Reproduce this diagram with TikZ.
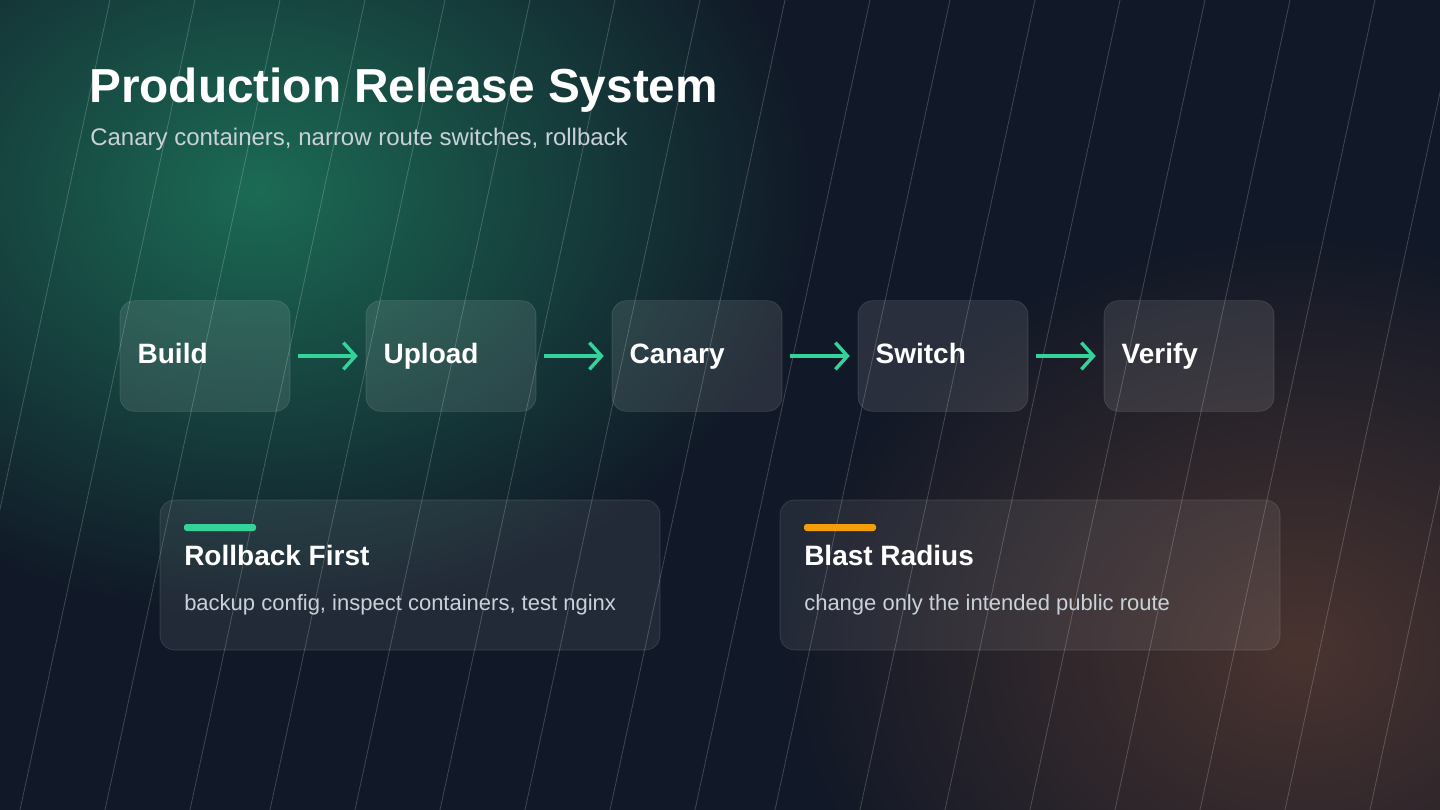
\documentclass[tikz,border=0pt]{standalone}
\usepackage{fontspec}
\setmainfont{Liberation Sans}
\usetikzlibrary{arrows.meta,fadings,positioning}
\definecolor{bgnavy}{HTML}{111827}
\definecolor{glowgreen}{HTML}{1C6B55}
\definecolor{glowbrown}{HTML}{4A3430}
\definecolor{accgreen}{HTML}{34D399}
\definecolor{accorange}{HTML}{F59E0B}
\definecolor{subgray}{HTML}{C9D1D9}
\tikzfading[name=glowfade,inner color=transparent!0,outer color=transparent!100]
\tikzset{
  stepbox/.style={draw=white,draw opacity=0.15,fill=white,fill opacity=0.1,text opacity=1,
    rounded corners=11pt,minimum width=127.5pt,minimum height=83pt,inner xsep=0pt,
    text=white,font=\bfseries\fontsize{21}{25}\selectfont,align=left,text width=101pt,
    text height=15pt,text depth=4pt},
  card/.style={draw=white,draw opacity=0.15,fill=white,fill opacity=0.08,
    rounded corners=11pt,minimum width=375pt,minimum height=112.5pt},
  flow/.style={accgreen,line width=2.6pt,-{Straight Barb[length=9pt,width=20pt,line width=2.6pt]}}
}
\begin{document}
\begin{tikzpicture}[x=0.75pt,y=-0.75pt]
% background
\fill[bgnavy] (0,0) rectangle (1440,810);
\useasboundingbox (0,0) rectangle (1440,810);
\begin{scope}
\clip (0,0) rectangle (1440,810);
\fill[glowgreen,path fading=glowfade,fit fading=true] (260,190) ellipse (560 and 430);
\fill[glowbrown,path fading=glowfade,fit fading=true] (1300,650) ellipse (520 and 420);
\foreach \x in {110,195,280,365,445,530,615,700,785,870,950,1035,1120,1205,1290,1375,1460,1545,1630}
  \draw[white,opacity=0.2,line width=0.6pt] (\x,0) -- (\x-175,810);
\end{scope}
% title
\node[anchor=base west,inner sep=0pt,text=white,font=\bfseries\fontsize{35.8}{42}\selectfont] (title) at (89,102) {Production Release System};
\node[anchor=base west,inner sep=0pt,text=subgray,font=\fontsize{18}{22}\selectfont] (subtitle) at (90,145) {Canary containers, narrow route switches, rollback};
% pipeline
\node[stepbox] (build) at (205,356) {Build};
\node[stepbox] (upload) at (451,356) {Upload};
\node[stepbox] (canary) at (697,356) {Canary};
\node[stepbox] (switch) at (943,356) {Switch};
\node[stepbox] (verify) at (1189,356) {Verify};
\foreach \a/\b in {build/upload,upload/canary,canary/switch,switch/verify}
  \draw[flow] ([xshift=6pt]\a.east) -- ([xshift=-6pt]\b.west);
% cards
\node[card] (rollback) at (410,575) {};
\node[card] (blast) at (1030,575) {};
\fill[accgreen,rounded corners=2pt] (184,524) rectangle (256,531);
\fill[accorange,rounded corners=2pt] (804,524) rectangle (876,531);
\node[anchor=base west,inner sep=0pt,text=white,font=\bfseries\fontsize{21}{25}\selectfont] (rbtitle) at (184,565) {Rollback First};
\node[anchor=base west,inner sep=0pt,text=subgray,font=\fontsize{16.5}{20}\selectfont] (rbtext) at (184,610) {backup config, inspect containers, test nginx};
\node[anchor=base west,inner sep=0pt,text=white,font=\bfseries\fontsize{21}{25}\selectfont] (brtitle) at (804,565) {Blast Radius};
\node[anchor=base west,inner sep=0pt,text=subgray,font=\fontsize{16.5}{20}\selectfont] (brtext) at (804,610) {change only the intended public route};
\end{tikzpicture}
\end{document}
